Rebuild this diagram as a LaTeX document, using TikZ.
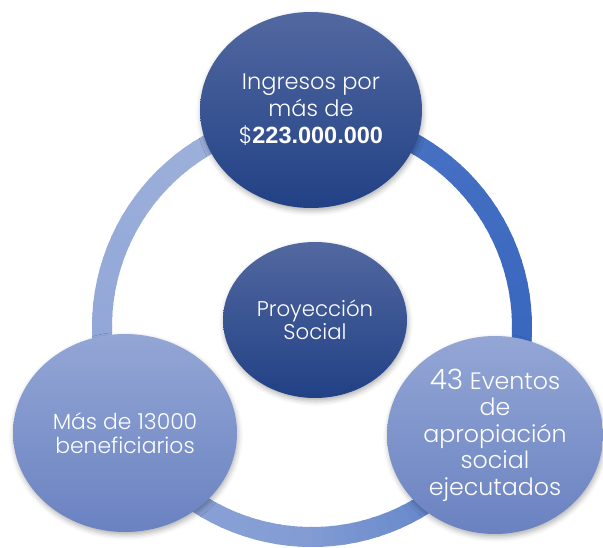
\documentclass[tikz,border=0pt]{standalone}
\usepackage{fontspec}
\setmainfont{Poppins}[UprightFont=* Light, BoldFont=* Medium]
\newfontfamily\cifras{Liberation Sans}
\usetikzlibrary{shapes.geometric, shadows.blur}

\definecolor{azultop}{RGB}{82,104,160}
\definecolor{azulmid}{RGB}{45,82,155}
\definecolor{azulbot}{RGB}{33,65,133}
\definecolor{clarotop}{RGB}{147,166,213}
\definecolor{clarobot}{RGB}{106,130,193}
\definecolor{anillooscuro}{RGB}{58,104,191}
\definecolor{anilloclaro}{RGB}{158,176,219}

\begin{document}
\begin{tikzpicture}[x=1pt, y=1pt,
  bola/.style={ellipse, inner sep=0pt, text=white, align=center,
    blur shadow={shadow xshift=1pt, shadow yshift=-3pt, shadow blur radius=5pt, shadow opacity=30}},
  oscura/.style={bola, top color=azultop, middle color=azulmid, bottom color=azulbot},
  clara/.style={bola, top color=clarotop, bottom color=clarobot}]
  \useasboundingbox (0,0) rectangle (603,547);
  % ring behind the circles
  \coordinate (anillo) at (312,220);
  \foreach \a in {0,3,...,357} {
    \pgfmathtruncatemacro\p{\a<90 ? (90-\a)/5 : (\a<180 ? 0.81*(\a-90) : min(100,73+0.18*(\a-180)))}
    \draw[anilloclaro!\p!anillooscuro, line width=20pt] (anillo) ++(90-\a:210)
      arc[start angle=90-\a, end angle=86.4-\a, radius=210pt];
  }
  % circles
  \node[oscura, minimum width=222pt, minimum height=196pt, font=\fontsize{22.5}{27}\selectfont] (ingresos) at (311,437)
    {Ingresos por\\más de\\\$\textbf{\cifras\fontsize{23.5}{27}\selectfont 223.000.000}};
  \node[oscura, minimum width=184pt, minimum height=156pt, font=\fontsize{21.3}{23}\selectfont] (proyeccion) at (315,227)
    {Proyección\\Social};
  \node[clara, minimum width=224pt, minimum height=198pt, font=\fontsize{21.9}{24}\selectfont] (beneficiarios) at (125,114)
    {Más de 13000\\beneficiarios};
  \node[clara, minimum width=216pt, minimum height=198pt, font=\fontsize{23.7}{26.5}\selectfont] (eventos) at (495,112)
    {{\fontsize{28}{26.5}\selectfont 43} Eventos\\de\\apropiación\\social\\ejecutados};
\end{tikzpicture}
\end{document}
